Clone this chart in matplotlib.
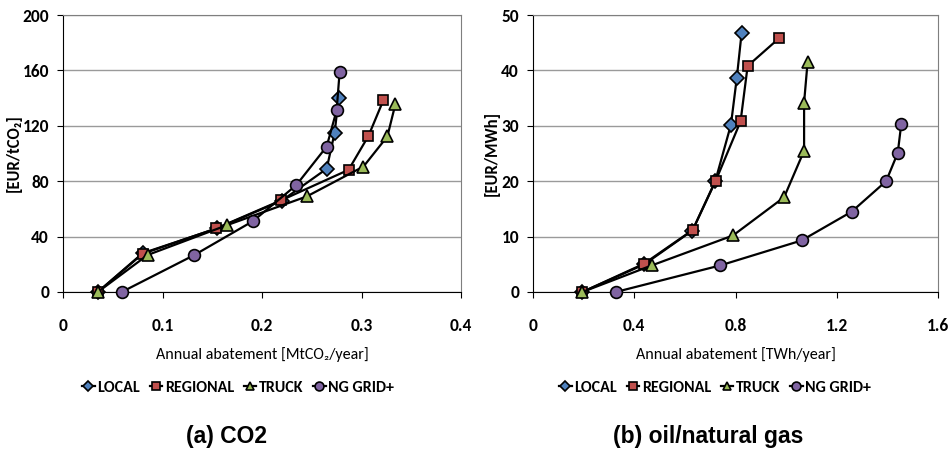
import matplotlib
matplotlib.use('Agg')
import matplotlib.pyplot as plt
from matplotlib import font_manager

# Dados
series = ['LOCAL', 'REGIONAL', 'TRUCK', 'NG GRID+']

# (a) CO2
co2_local_x = [0.035, 0.080, 0.155, 0.220, 0.265, 0.273, 0.277]
co2_local_y = [0, 28, 46, 66, 89, 115, 140]
co2_regional_x = [0.035, 0.080, 0.154, 0.219, 0.287, 0.307, 0.322]
co2_regional_y = [0, 27.6, 45.9, 66.1, 88.2, 112.7, 138.5]
co2_truck_x = [0.035, 0.085, 0.165, 0.245, 0.302, 0.326, 0.334]
co2_truck_y = [0, 26.7, 48.3, 69, 90.6, 112.3, 135.5]
co2_ng_x = [0.059, 0.132, 0.191, 0.2345, 0.265, 0.275, 0.278]
co2_ng_y = [0, 26.7, 51.2, 77.2, 105, 131.2, 158.7]

# (b) oil/natural gas
gas_local_x = [0.195, 0.44, 0.63, 0.72, 0.782, 0.805, 0.824]
gas_local_y = [0, 5.0, 11.1, 20.0, 30.2, 38.6, 46.7]
gas_regional_x = [0.195, 0.4385, 0.631, 0.722, 0.820, 0.848, 0.972]
gas_regional_y = [0, 5.1, 11.2, 20.1, 30.8, 40.8, 45.8]
gas_truck_x = [0.195, 0.469, 0.790, 0.992, 1.071, 1.071, 1.085]
gas_truck_y = [0, 4.8, 10.2, 17.1, 25.5, 34.2, 41.6]
gas_ng_x = [0.327, 0.740, 1.061, 1.259, 1.395, 1.441, 1.455]
gas_ng_y = [0, 4.8, 9.3, 14.5, 20.0, 25.1, 30.4]

markers = ['D', 's', '^', 'o']
cores = ['#4F81BD', '#C0504D', '#9BBB59', '#8064A2']
tamanhos = [7, 7.5, 8.5, 8.5]

# escolhe uma fonte estreita parecida com Calibri
fontes = font_manager.fontManager.ttflist
estreita = 'DejaVu Sans'
for nome in ['Carlito', 'Liberation Sans Narrow', 'Roboto Condensed', 'PT Sans Narrow',
             'Open Sans Condensed', 'Fira Sans Condensed', 'Archivo Narrow',
             'IBM Plex Sans Condensed', 'Asap Condensed', 'Encode Sans Condensed']:
    pesos = [f.weight for f in fontes if f.name == nome]
    if any(isinstance(p, int) and p >= 700 for p in pesos) and any(p == 400 for p in pesos):
        estreita = nome
        break
narrow = [estreita, 'DejaVu Sans']
arial = ['Liberation Sans', 'DejaVu Sans']
negrito = 'semibold'

fig = plt.figure(figsize=(9.53, 4.5), dpi=100)
ax0 = fig.add_axes([63 / 953, 1 - 292 / 450, 398 / 953, 277 / 450])
ax1 = fig.add_axes([533 / 953, 1 - 292 / 450, 405 / 953, 277 / 450])


def desenha(ax, dados, xticks, xlabs, yticks, xlabel, ylabel, titulo, ylab_x, leg_x, tit_x):
    linhas = []
    for (x, y), m, c, s, nome in zip(dados, markers, cores, tamanhos, series):
        l, = ax.plot(x, y, color='black', lw=1.6, marker=m, ms=s,
                     markerfacecolor=c, markeredgecolor='black', markeredgewidth=1.2,
                     label=nome, clip_on=False, zorder=3)
        linhas.append(l)
    ax.set_xlim(xticks[0], xticks[-1])
    ax.set_ylim(yticks[0], yticks[-1])
    ax.tick_params(axis='x', direction='out', length=4, pad=15, color='black')
    ax.tick_params(axis='y', direction='out', length=4, pad=6, color='black')
    ax.set_xticks(xticks, xlabs)
    ax.set_yticks(yticks, [str(t) for t in yticks])
    for t in ax.get_xticklabels() + ax.get_yticklabels():
        t.set_fontfamily(narrow)
        t.set_fontweight(negrito)
        t.set_fontsize(12.5)
    ax.grid(axis='y', color='#9a9a9a', lw=1)
    ax.set_axisbelow(True)
    for lado in ['top', 'right']:
        ax.spines[lado].set_color('#7f7f7f')
    for lado in ['left', 'bottom']:
        ax.spines[lado].set_color('black')
    ax.set_xlabel(xlabel, family=narrow, fontweight='medium', fontsize=11.5, labelpad=9)
    ax.set_ylabel(ylabel, family=narrow, fontweight=negrito, fontsize=12)
    ax.yaxis.set_label_coords(ylab_x, 0.5)
    ax.legend(handles=linhas, loc='center', bbox_to_anchor=(leg_x, -0.345), ncol=4,
              frameon=False, handlelength=0.8, handletextpad=0.15, columnspacing=0.6,
              markerscale=0.75, prop={'family': narrow, 'size': 11.5, 'weight': negrito})
    ax.text(tit_x, -0.52, titulo, transform=ax.transAxes, ha='center', va='center',
            family=arial, fontweight='bold', fontsize=16.5)


desenha(ax0, [(co2_local_x, co2_local_y), (co2_regional_x, co2_regional_y),
              (co2_truck_x, co2_truck_y), (co2_ng_x, co2_ng_y)],
        [0, 0.1, 0.2, 0.3, 0.4], ['0', '0.1', '0.2', '0.3', '0.4'], [0, 40, 80, 120, 160, 200],
        'Annual abatement [MtCO\u2082/year]', '[EUR/tCO\u2082]', '(a) CO2',
        (22 - 63) / 398, (238 - 63) / 398, (227 - 63) / 398)

desenha(ax1, [(gas_local_x, gas_local_y), (gas_regional_x, gas_regional_y),
              (gas_truck_x, gas_truck_y), (gas_ng_x, gas_ng_y)],
        [0, 0.4, 0.8, 1.2, 1.6], ['0', '0.4', '0.8', '1.2', '1.6'], [0, 10, 20, 30, 40, 50],
        'Annual abatement [TWh/year]', '[EUR/MWh]', '(b) oil/natural gas',
        (500 - 533) / 405, (715 - 533) / 405, (708 - 533) / 405)

fig.savefig('out.png', dpi=100)
